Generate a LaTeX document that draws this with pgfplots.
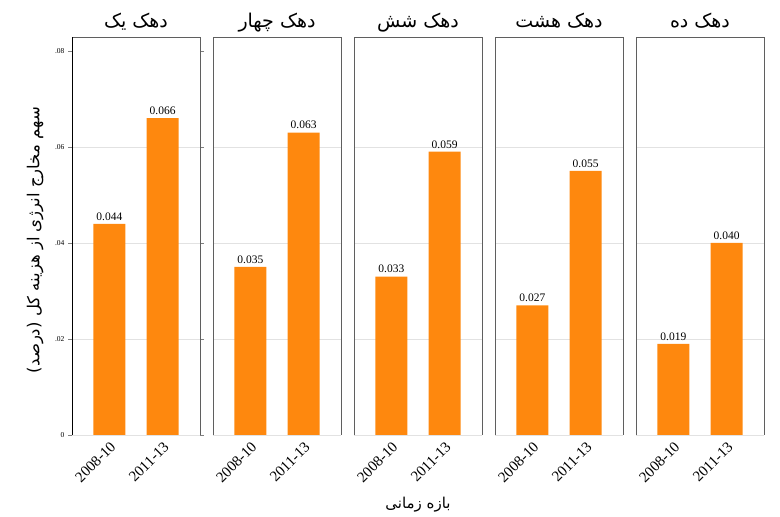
\documentclass[border=0pt]{standalone}
\usepackage{pgfplots}
\pgfplotsset{compat=1.18}
\usepackage{fontspec}
\setmainfont{Liberation Serif}
\newfontfamily\fa[Script=Arabic]{DejaVu Sans}
\TeXXeTstate=1
\definecolor{barorange}{RGB}{254,136,14}
\definecolor{framegray}{RGB}{95,95,95}
\definecolor{gridgray}{RGB}{226,226,226}
\pgfplotsset{
  panel/.style={
    scale only axis, width=128pt, height=398pt,
    anchor=south west,
    xmin=0.3, xmax=2.7, ymin=0, ymax=0.0829,
    /pgf/number format/assume math mode=true,
    scaled y ticks=false,
    xtick={1,2}, xticklabels={\mbox{2008-10},\mbox{2011-13}},
    xticklabel style={rotate=45, anchor=north east, font=\fontsize{15}{15}\selectfont, inner sep=1pt},
    xtick style={draw=none},
    ytick={0,0.02,0.04,0.06},
    ymajorgrids, grid style={gridgray, line width=0.8pt},
    axis line style={draw=none},
    ybar, bar width=32pt,
    nodes near coords={\pgfmathprintnumber[fixed,zerofill,precision=3]{\pgfplotspointmeta}},
    every node near coord/.append style={font=\fontsize{11.5}{11.5}\selectfont, black},
    title style={font=\fa\fontsize{19}{19}\selectfont, at={(0.5,1)}, anchor=base, yshift=3pt},
    clip=false,
  },
  inner/.style={panel, yticklabels={}, ytick style={draw=none}},
  bars/.style={fill=barorange, draw=none},
}
\newcommand{\frameit}{\draw[framegray, line width=0.8pt] (rel axis cs:0,0) -- (rel axis cs:0,1) -- (rel axis cs:1,1) -- (rel axis cs:1,0);}
\begin{document}
\begin{tikzpicture}[x=1pt,y=1pt]
\useasboundingbox (0,0) rectangle (780,517);
\begin{axis}[panel, at={(72pt,82pt)},
  yticklabels={\mbox{0},\mbox{.02},\mbox{.04},\mbox{.06}},
  extra y ticks={0.08}, extra y tick labels={\mbox{.08}},
  extra y tick style={grid=none},
  yticklabel style={font=\fontsize{7.5}{7.5}\selectfont},
  ytick style={gray, line width=0.6pt}, tick align=outside, major tick length=4pt,
  title={\beginR دهک یک\endR}]
\addplot[bars] coordinates {(1,0.044) (2,0.066)};
\frameit
\draw[black, line width=0.8pt] (rel axis cs:0,0) -- (rel axis cs:0,1);
\end{axis}
\begin{axis}[inner, at={(213pt,82pt)}, title={\beginR دهک چهار\endR}]
\addplot[bars] coordinates {(1,0.035) (2,0.063)};
\frameit
\end{axis}
\begin{axis}[inner, at={(354pt,82pt)}, title={\beginR دهک شش\endR}]
\addplot[bars] coordinates {(1,0.033) (2,0.059)};
\frameit
\end{axis}
\begin{axis}[inner, at={(495pt,82pt)}, title={\beginR دهک هشت\endR}]
\addplot[bars] coordinates {(1,0.027) (2,0.055)};
\frameit
\end{axis}
\begin{axis}[inner, at={(636pt,82pt)}, title={\beginR دهک ده\endR}]
\addplot[bars] coordinates {(1,0.019) (2,0.040)};
\frameit
\end{axis}
\node[rotate=90, font=\fa\fontsize{16.5}{16.5}\selectfont] at (35,277) {\beginR سهم مخارج انرژی از هزینه کل (درصد)\endR};
\node[font=\fa\fontsize{15}{15}\selectfont] at (418,12) {\beginR بازه زمانی\endR};
\end{tikzpicture}
\end{document}
